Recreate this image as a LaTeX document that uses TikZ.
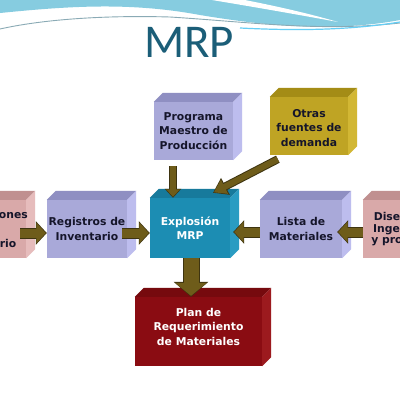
\documentclass[tikz,border=0pt]{standalone}
\usepackage{fontspec}
\setmainfont{DejaVu Sans}
\newfontfamily\titlefont{Carlito}
\usetikzlibrary{arrows.meta,calc}
\definecolor{lavF}{HTML}{A9A9D9}
\definecolor{lavT}{HTML}{8F8FC2}
\definecolor{lavS}{HTML}{BDBDEE}
\definecolor{pinkF}{HTML}{D9A9A9}
\definecolor{pinkT}{HTML}{C09090}
\definecolor{pinkS}{HTML}{E6BCBC}
\definecolor{oliF}{HTML}{BFA424}
\definecolor{oliT}{HTML}{A48C16}
\definecolor{oliS}{HTML}{D2B734}
\definecolor{tealF}{HTML}{1C8DB3}
\definecolor{tealT}{HTML}{177A9C}
\definecolor{tealS}{HTML}{2A9CC2}
\definecolor{redF}{HTML}{8A0C12}
\definecolor{redT}{HTML}{760A0E}
\definecolor{redS}{HTML}{9C1A1E}
\definecolor{arrF}{HTML}{6E5C1A}
\definecolor{arrD}{HTML}{3E3410}
\definecolor{titleC}{HTML}{1B5E78}
\definecolor{waveB}{HTML}{86CCE0}
\definecolor{waveL}{HTML}{8AAAB5}
\definecolor{txtC}{HTML}{15152A}
\newcommand\cubebox[8]{%
  \node[draw=none,fill=#6,minimum width=#3pt,minimum height=#4pt,inner sep=0pt] (#1) at (#2) {};
  \fill[#7] (#1.north west) -- ([shift={(9,-9)}]#1.north west) -- ([shift={(9,-9)}]#1.north east) -- (#1.north east) -- cycle;
  \fill[#8] (#1.north east) -- ([shift={(9,-9)}]#1.north east) -- ([shift={(9,-9)}]#1.south east) -- (#1.south east) -- cycle;
  \node[#5] (#1-t) at (#1) {}; }
\begin{document}
\begin{tikzpicture}[x=1pt,y=-1pt,
  boxtxt/.style={font=\fontsize{10.8}{14.5}\selectfont\bfseries,align=center,text=txtC,inner sep=0pt},
  whitetxt/.style={boxtxt,text=white},
  ]
\useasboundingbox (0,0) rectangle (400,400);
\clip (0,0) rectangle (400,400);
\fill[white] (0,0) rectangle (400,400);
% top wave
\fill[waveB] (0,0) -- (0,13) .. controls (70,6) and (130,2) .. (200,15) .. controls (260,25) and (330,33) .. (400,20) -- (400,0) -- cycle;
\fill[white] (212,0) .. controls (260,8) and (300,15) .. (338,22) .. controls (300,11) and (265,4) .. (245,0) -- cycle;
\draw[waveL,line width=0.9pt] (0,29) .. controls (40,20) and (100,15) .. (170,17) .. controls (250,22) and (320,32) .. (400,23);
\draw[cyan!60!white,line width=1.2pt] (240,28) .. controls (300,31) and (350,30) .. (400,22);
% title
\node[font=\titlefont\fontsize{47}{50}\selectfont,text=titleC,inner sep=0pt,anchor=base] (title) at (189,57) {MRP};
% boxes
\cubebox{pink}{-15,229}{82}{58}{boxtxt}{pinkF}{pinkT}{pinkS}
\node[boxtxt] at (pink) {Transacciones\\de\\Inventario};
\cubebox{reg}{87,229}{80}{58}{boxtxt}{lavF}{lavT}{lavS}
\node[boxtxt] at (reg) {Registros de\\Inventario};
\cubebox{exp}{190,228}{80}{60}{whitetxt}{tealF}{tealT}{tealS}
\node[whitetxt] at (exp) {Explosión\\MRP};
\cubebox{lista}{301,229}{82}{58}{boxtxt}{lavF}{lavT}{lavS}
\node[boxtxt] at (lista) {Lista de\\Materiales};
\cubebox{dis}{404,229}{82}{58}{boxtxt}{pinkF}{pinkT}{pinkS}
\node[boxtxt,font=\fontsize{10.8}{11.5}\selectfont\bfseries] at (dis) {Diseño de\\Ingeniería\\y procesos};
\cubebox{prog}{193.5,131}{79}{58}{boxtxt}{lavF}{lavT}{lavS}
\node[boxtxt] at (prog) {Programa\\Maestro de\\Producción};
\cubebox{otras}{309,126}{78}{58}{boxtxt}{oliF}{oliT}{oliS}
\node[boxtxt] at ([shift={(0,2)}]otras) {Otras\\fuentes de\\demanda};
\cubebox{plan}{198.5,331.5}{127}{69}{whitetxt}{redF}{redT}{redS}
\node[whitetxt] at ([shift={(0,-5)}]plan) {Plan de\\Requerimiento\\de Materiales};
% arrows
\tikzset{
  harr/.style={draw=arrD,line width=11pt,-{Triangle[width=23pt,length=11pt]},
    postaction={draw=arrF,line width=9pt,-{Triangle[width=20pt,length=9.5pt]},shorten >=1pt}},
}
\draw[harr] ([shift={(-6,4)}]pink.east) -- ([shift={(0,4)}]reg.west);
\draw[harr] ([shift={(-5,4)}]reg.east) -- ([shift={(0,5)}]exp.west);
\draw[harr] ([shift={(0,3)}]lista.west) -- ([shift={(3,4)}]exp.east);
\draw[harr] ([shift={(0,3)}]dis.west) -- ([shift={(-5,3)}]lista.east);
\draw[draw=arrD,line width=8pt,-{Triangle[width=16pt,length=9pt]},
  postaction={draw=arrF,line width=6pt,-{Triangle[width=13.5pt,length=7.5pt]},shorten >=1pt}]
  ([shift={(-20.5,6)}]prog.south) -- ([shift={(-17,0)}]exp.north);
\draw[draw=arrD,line width=8pt,-{Triangle[width=18pt,length=14pt]},
  postaction={draw=arrF,line width=6pt,-{Triangle[width=15pt,length=12pt]},shorten >=1pt}]
  ([shift={(8,4)}]otras.south west) -- ([shift={(23,-5)}]exp.north);
\draw[draw=arrD,line width=17pt,-{Triangle[width=34pt,length=15pt]},
  postaction={draw=arrF,line width=15pt,-{Triangle[width=31pt,length=13pt]},shorten >=1pt}]
  ([shift={(1,0)}]exp.south) -- ([shift={(1,0)}]exp.south |- plan.north);
\end{tikzpicture}
\end{document}
